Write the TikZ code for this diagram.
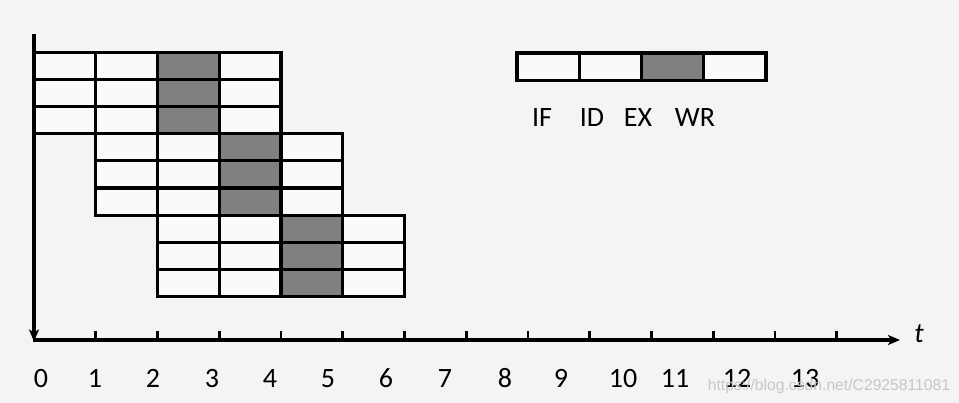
\documentclass[tikz,border=0pt]{standalone}
\usepackage{fontspec}
\setmainfont{Carlito}
\newfontfamily\wmfont{Liberation Sans}
\usetikzlibrary{arrows.meta}
\definecolor{bg}{RGB}{244,244,244}
\definecolor{cellw}{RGB}{250,250,250}
\definecolor{shadegray}{RGB}{128,128,128}
\begin{document}
\begin{tikzpicture}[x=1pt,y=-1pt,
 cell/.style={draw=black, line width=3.1pt, fill=cellw, minimum width=61.75pt, minimum height=27.1pt, inner sep=0pt, outer sep=0pt},
 shadedcell/.style={cell, fill=shadegray},
 legcell/.style={cell, minimum width=62.25pt, minimum height=27.5pt},
 lbl/.style={font=\fontsize{28}{30}\selectfont, inner sep=0pt, anchor=base},
 axisline/.style={line width=3.1pt},
 tip/.style={-{Stealth[length=12pt,width=10pt,inset=3pt]}},
 tickline/.style={line width=2.8pt}]
\fill[bg] (0,0) rectangle (959,403);
\useasboundingbox (0,0) rectangle (959,403);
% pipeline cells
\foreach \g in {0,1,2}{
  \foreach \r in {0,1,2}{
    \foreach \c in {0,1,2,3}{
      \ifnum\c=2 \def\st{shadedcell}\else\def\st{cell}\fi
      \node[\st] (g\g r\r c\c) at ({34+61.75*(\g+\c)+30.875},{52.5+27.1*(3*\g+\r)+13.55}) {};
    }
  }
}
% legend
\node[legcell] (leg0) at ({517+31.125},66.75) {};
\node[legcell] (leg1) at ({517+31.125+62.25},66.75) {};
\node[legcell, fill=shadegray] (leg2) at ({517+31.125+2*62.25},66.75) {};
\node[legcell] (leg3) at ({517+31.125+3*62.25},66.75) {};
\node[lbl] (lIF) at (542,127) {IF};
\node[lbl] (lID) at (592,127) {ID};
\node[lbl] (lEX) at (638,127) {EX};
\node[lbl] (lWR) at (695,127) {WR};
% axes
\coordinate (ytop) at (34,34);
\coordinate (ybot) at (34,341.5);
\coordinate (O) at (32.5,340);
\coordinate (xend) at (900,340);
\draw[axisline,tip] (ytop) -- (ybot);
\draw[axisline,tip] (O) -- (xend);
\foreach \k in {1,...,13}{
  \coordinate (tk\k) at ({34+61.75*\k},340);
  \draw[tickline] (tk\k) -- ++(0,-8.5);
}
\node[lbl, font=\fontsize{28}{30}\selectfont\itshape] (tlabel) at (919,343) {t};
% tick labels
\foreach \lab/\xx in {0/41,1/95,2/153,3/212,4/270,5/328,6/386,7/445,8/505,9/561,10/623,11/675,12/737,13/805}{
  \node[lbl] (n\lab) at (\xx,388) {\lab};
}
% watermark
\node[font=\wmfont\fontsize{15.7}{17}\selectfont, text=black!22, inner sep=0pt, anchor=base] (wm) at (829,391) {https://blog.csdn.net/C2925811081};
\end{tikzpicture}
\end{document}
